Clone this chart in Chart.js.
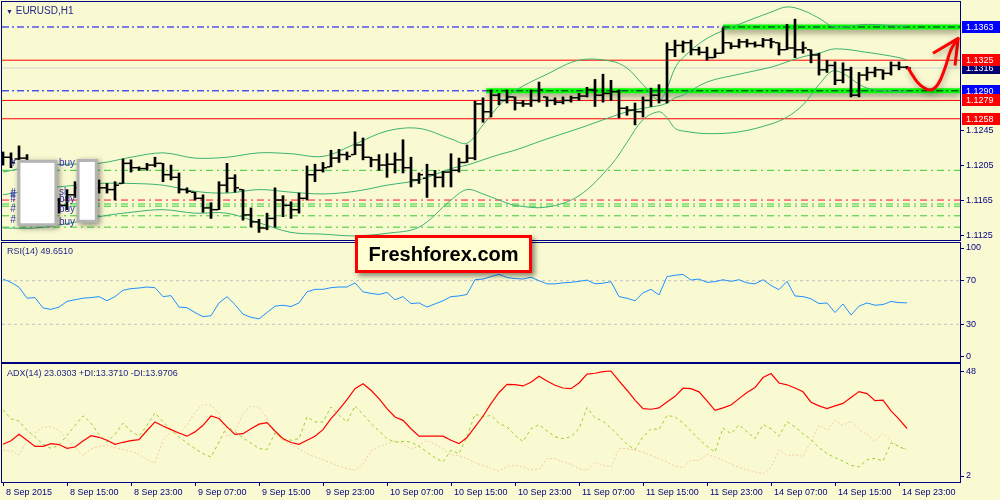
<!DOCTYPE html>
<html>
<head>
<meta charset="utf-8">
<script src="https://cdn.jsdelivr.net/npm/chart.js@4.4.1/dist/chart.umd.min.js"></script>
<style>
  body { margin: 0; background: #fafad2; }
  #wrap { position: relative; width: 1000px; height: 500px; overflow: hidden; background: #fafad2; font-family: "Liberation Sans", Arial, sans-serif; }
  canvas { position: absolute; left: 0; }
  .lbl { position: absolute; font-size: 9px; line-height: 10px; color: #24248c; white-space: nowrap; }
  #brand { position: absolute; left: 355px; top: 235px; width: 177px; height: 38px; box-sizing: border-box;
           border: 3px solid #ff0000; background: #ffffd2; box-shadow: 3px 3px 5px rgba(0,0,0,0.45);
           font: bold 20px "Liberation Sans", Arial, sans-serif; color: #000; text-align: center; line-height: 32px; }
</style>
</head>
<body>
<div id="wrap">
  <canvas id="priceChart" width="1000" height="241" style="top:0"></canvas>
  <canvas id="rsiChart" width="1000" height="121" style="top:242px"></canvas>
  <canvas id="adxChart" width="1000" height="137" style="top:363px"></canvas>
  <div class="lbl" style="left:6px;top:5px;font-size:10px;line-height:11px"><span style="font-size:7px">&#9660;</span> EURUSD,H1</div>
  <div class="lbl" style="left:7px;top:246px">RSI(14) 49.6510</div>
  <div class="lbl" style="left:7px;top:368px">ADX(14) 23.0303 +DI:13.3710 -DI:13.9706</div>
  <div id="brand">Freshforex.com</div>
</div>
<script>
// x axis: one slot per H1 bar
const xTickIdx = [0, 8, 16, 24, 32, 40, 48, 56, 64, 72, 80, 88, 96, 104, 112];
const xTickLabels = ['8 Sep 2015', '8 Sep 15:00', '8 Sep 23:00', '9 Sep 07:00', '9 Sep 15:00', '9 Sep 23:00',
    '10 Sep 07:00', '10 Sep 15:00', '10 Sep 23:00', '11 Sep 07:00', '11 Sep 15:00', '11 Sep 23:00',
    '14 Sep 07:00', '14 Sep 15:00', '14 Sep 23:00'];

// EURUSD H1 bars
const openP = [1.1208,1.1214,1.1212,1.1213,1.1202,1.1190,1.1177,1.1165,1.1159,1.1171,
    1.1179,1.1182,1.1179,1.1179,1.1177,1.1184,1.1207,1.1202,1.1201,1.1205,
    1.1207,1.1194,1.1191,1.1177,1.1174,1.1167,1.1156,1.1154,1.1182,1.1190,
    1.1177,1.1148,1.1140,1.1133,1.1144,1.1165,1.1159,1.1154,1.1167,1.1194,
    1.1199,1.1203,1.1213,1.1217,1.1217,1.1228,1.1214,1.1211,1.1205,1.1206,
    1.1211,1.1202,1.1188,1.1190,1.1194,1.1191,1.1197,1.1199,1.1208,1.1213,
    1.1275,1.1266,1.1285,1.1279,1.1283,1.1276,1.1275,1.1279,1.1283,1.1279,
    1.1277,1.1279,1.1282,1.1284,1.1291,1.1285,1.1287,1.1289,1.1270,1.1268,
    1.1266,1.1279,1.1285,1.1279,1.1337,1.1342,1.1345,1.1337,1.1334,1.1328,
    1.1333,1.1345,1.1341,1.1346,1.1344,1.1342,1.1348,1.1345,1.1337,1.1339,
    1.1337,1.1337,1.1331,1.1314,1.1319,1.1302,1.1314,1.1285,1.1308,1.1311,
    1.1314,1.1310,1.1319,1.1317];
const highP = [1.1220,1.1219,1.1227,1.1217,1.1205,1.1194,1.1182,1.1167,1.1177,1.1186,
    1.1190,1.1188,1.1188,1.1184,1.1186,1.1212,1.1211,1.1203,1.1207,1.1214,
    1.1207,1.1205,1.1196,1.1179,1.1174,1.1171,1.1162,1.1186,1.1207,1.1194,
    1.1177,1.1156,1.1143,1.1150,1.1179,1.1170,1.1163,1.1173,1.1204,1.1206,
    1.1208,1.1222,1.1223,1.1220,1.1243,1.1236,1.1214,1.1217,1.1218,1.1219,
    1.1234,1.1214,1.1196,1.1206,1.1199,1.1198,1.1218,1.1213,1.1228,1.1278,
    1.1282,1.1291,1.1287,1.1291,1.1283,1.1279,1.1291,1.1300,1.1283,1.1282,
    1.1283,1.1284,1.1287,1.1294,1.1303,1.1309,1.1302,1.1291,1.1272,1.1276,
    1.1283,1.1293,1.1297,1.1345,1.1348,1.1347,1.1348,1.1340,1.1340,1.1338,
    1.1362,1.1345,1.1349,1.1349,1.1346,1.1350,1.1350,1.1345,1.1366,1.1372,
    1.1346,1.1337,1.1333,1.1325,1.1323,1.1322,1.1317,1.1311,1.1317,1.1317,
    1.1314,1.1323,1.1323,1.1318];
const lowP = [1.1205,1.1202,1.1211,1.1197,1.1186,1.1171,1.1159,1.1150,1.1154,1.1168,
    1.1171,1.1171,1.1173,1.1173,1.1165,1.1184,1.1197,1.1199,1.1199,1.1203,
    1.1186,1.1188,1.1173,1.1173,1.1165,1.1151,1.1144,1.1154,1.1174,1.1174,
    1.1142,1.1134,1.1128,1.1131,1.1134,1.1146,1.1144,1.1150,1.1165,1.1186,
    1.1197,1.1203,1.1208,1.1211,1.1217,1.1211,1.1203,1.1199,1.1191,1.1196,
    1.1196,1.1180,1.1184,1.1168,1.1180,1.1180,1.1180,1.1197,1.1208,1.1211,
    1.1254,1.1260,1.1274,1.1276,1.1268,1.1272,1.1272,1.1277,1.1272,1.1274,
    1.1275,1.1277,1.1279,1.1283,1.1272,1.1277,1.1279,1.1259,1.1262,1.1251,
    1.1260,1.1272,1.1276,1.1276,1.1329,1.1334,1.1331,1.1331,1.1325,1.1328,
    1.1333,1.1338,1.1339,1.1340,1.1340,1.1340,1.1339,1.1331,1.1337,1.1328,
    1.1333,1.1322,1.1308,1.1311,1.1297,1.1299,1.1283,1.1283,1.1302,1.1306,
    1.1303,1.1308,1.1314,1.1315];
const closeP = [1.1214,1.1208,1.1213,1.1202,1.1190,1.1177,1.1165,1.1159,1.1171,1.1179,
    1.1182,1.1179,1.1179,1.1177,1.1182,1.1207,1.1202,1.1201,1.1205,1.1207,
    1.1194,1.1191,1.1177,1.1175,1.1167,1.1156,1.1154,1.1182,1.1190,1.1179,
    1.1148,1.1140,1.1133,1.1144,1.1165,1.1159,1.1154,1.1167,1.1194,1.1199,
    1.1202,1.1213,1.1217,1.1215,1.1228,1.1214,1.1211,1.1205,1.1206,1.1211,
    1.1202,1.1188,1.1194,1.1194,1.1191,1.1197,1.1199,1.1208,1.1213,1.1275,
    1.1266,1.1285,1.1279,1.1283,1.1276,1.1275,1.1279,1.1291,1.1279,1.1277,
    1.1279,1.1282,1.1284,1.1291,1.1285,1.1287,1.1289,1.1270,1.1268,1.1266,
    1.1279,1.1285,1.1279,1.1337,1.1342,1.1345,1.1337,1.1334,1.1328,1.1333,
    1.1345,1.1341,1.1346,1.1344,1.1342,1.1348,1.1346,1.1337,1.1339,1.1337,
    1.1339,1.1331,1.1314,1.1319,1.1302,1.1314,1.1285,1.1308,1.1311,1.1314,
    1.1310,1.1319,1.1317,1.1316];

// Bollinger bands, read at these bars
const bandIdx = [0,4,8,12,16,20,24,28,32,36,40,44,48,52,56,58,60,62,64,68,72,76,78,80,82,83,84,85,88,92,96,98,100,102,104,108,112,113];
const bandUpper = [1.1197,1.1204,1.1206,1.1207,1.1214,1.1219,1.1213,1.1214,1.1219,1.1218,1.1215,1.1229,1.1244,1.1247,1.1235,1.1230,1.1251,1.1273,1.1290,
    1.1309,1.1325,1.1324,1.1316,1.1297,1.1279,1.1293,1.1316,1.1328,1.1350,1.1366,1.1380,1.1386,1.1382,1.1373,1.1363,1.1366,1.1364,1.1364];
const bandMiddle = [1.1171,1.1177,1.1181,1.1184,1.1184,1.1182,1.1175,1.1173,1.1177,1.1174,1.1172,1.1175,1.1182,1.1188,1.1201,1.1205,1.1211,1.1217,1.1222,
    1.1235,1.1247,1.1260,1.1266,1.1270,1.1273,1.1276,1.1282,1.1285,1.1300,1.1309,1.1317,1.1323,1.1329,1.1333,1.1338,1.1334,1.1328,1.1325];
const bandLower = [1.1133,1.1133,1.1138,1.1146,1.1151,1.1154,1.1150,1.1150,1.1139,1.1128,1.1126,1.1124,1.1127,1.1134,1.1165,1.1177,1.1172,1.1165,1.1159,
    1.1157,1.1170,1.1205,1.1231,1.1257,1.1266,1.1259,1.1247,1.1244,1.1241,1.1243,1.1252,1.1260,1.1274,1.1297,1.1313,1.1293,1.1289,1.1289];

// horizontal levels drawn on the chart
const levelPrices = [1.1363, 1.1325, 1.1316, 1.1290, 1.1279, 1.1258, 1.1199, 1.1165, 1.11605, 1.1158, 1.1147, 1.1134];
const levelKinds = ['blueDash', 'redSolid', 'graySolid', 'blueDash', 'redSolid', 'redSolid', 'greenDash', 'redDash', 'greenDash', 'greenDash', 'greenDash', 'greenDash'];
const zoneFrom = [60.4, 90];
const zonePrice = [1.1290, 1.1363];

// price tags on the right axis
const priceTicks = [1.1125, 1.1165, 1.1205, 1.1245];
const tagValues = [1.1316, 1.1363, 1.1325, 1.1290, 1.1279, 1.1258];
const tagKinds = ['current', 'blue', 'red', 'blue', 'red', 'red'];

// hand drawn forecast arrow (bar index, price)
const arrowX = [113.1, 113.75, 114.6, 115.9, 116.9, 117.75, 118.5, 119.4];
const arrowY = [1.1317, 1.1307, 1.1297, 1.1291, 1.1298, 1.1316, 1.1337, 1.1350];
const arrowHeadX = [116.25, 119.4, 119.0];
const arrowHeadY = [1.1333, 1.1350, 1.1319];

// order objects at the left
const boxX0 = [1.8, 9.2];
const boxX1 = [6.8, 11.85];
const boxTop = [1.1211, 1.1212];
const boxBottom = [1.1135, 1.1139];
const noteText = ['#', 'buy', '#', '#', '#', 'sl', 'buy', '#', 'buy', '#', 'buy'];
const noteX = [0.9, 7.0, 0.9, 0.9, 0.9, 7.0, 7.0, 0.9, 7.0, 0.9, 7.0];
const noteY = [1.1207, 1.1207, 1.1173, 1.1170, 1.1166, 1.1174, 1.1166, 1.1154, 1.1154, 1.1142, 1.1140];

// indicators
const rsi = [71.5,68.5,64,54,54.5,45,43.7,45.8,51,52.5, 54,54.5,55.4,51.6,55.4,61.2,62.7,63.3,64.2,63.6,
    55.4,56.3,45.8,45.2,40.8,37,37.9,49.6,55.4,48.1, 39.3,36.4,35,40.8,46.6,47.5,46.3,49.6,59.8,62.1,
    62.1,63.6,64.2,64.2,68,59.8,58.3,57.4,59.2,52.5, 55.4,49,49.6,45.8,48.7,51.6,55.4,56,57.4,70.9,
    71.5,73.8,75.8,72.9,72,71.5,73.2,70,67.1,67.1, 68,68.5,69.4,70.6,67.1,67.7,69.1,55.4,53.9,51.6,
    58.9,62.1,56.9,73.8,75,75.8,70.6,71.5,68.5,69.1, 70.9,69.4,70.9,68,67.1,70.9,65.6,61.8,69.4,56,
    55.4,53.4,49,49.6,40.8,48.7,38.5,46.6,49.6,47.5, 48.1,51,49.9,49.65];
const rsiLevels = [70, 30];
const rsiTicks = [0, 30, 70, 100];

const adx = [16.0,17.6,20.4,17.8,15.1,15.1,16.3,15.9,14.2,14.8, 17.5,19.8,19.1,17.8,16.0,16.9,17.6,18.1,22.1,25.9,
    24.1,22.5,21.0,19.6,21.5,24.4,28.5,27.4,23.7,20.4, 20.7,22.9,24.9,25.6,21.9,18.5,16.8,16.0,17.8,19.6,
    22.5,27.4,31.3,35.8,40.6,42.8,39.9,36.2,31.8,28.1, 26.6,22.9,19.6,19.6,19.6,19.6,17.8,16.3,19.0,23.7,
    28.4,34.0,38.9,42.5,42.4,41.8,43.4,46.1,44.0,42.1, 40.9,40.6,43.1,47.0,47.4,48.1,48.4,44.0,39.9,35.5,
    31.8,31.5,32.1,34.7,37.2,40.8,40.6,39.2,35.2,31.0, 32.1,33.4,36.2,38.9,41.1,45.5,47.3,43.1,42.3,40.9,
    39.2,34.6,33.0,31.8,33.0,34.1,36.7,39.3,38.4,35.3, 35.5,30.8,27.1,23.0];
const plusDI = [31.3,27.2,26.3,22.2,19.3,16.0,14.2,15.6,20.0,24.3, 28.6,25.4,20.4,17.0,20.4,25.4,21.8,19.6,24.4,29.9,
    25.9,22.5,19.3,16.6,14.1,11.9,10.4,17.0,24.1,21.5, 18.8,16.6,14.1,13.7,21.0,18.5,17.8,18.5,28.1,25.9,
    25.9,32.5,28.8,25.9,33.0,29.3,25.2,21.9,18.5,17.0, 17.3,17.0,15.1,12.6,10.1,8.2,13.4,11.9,19.3,29.3,
    28.1,28.8,25.2,23.7,20.0,17.2,22.9,24.7,21.9,19.3, 18.5,19.4,22.9,32.2,27.8,26.2,23.2,19.6,16.0,13.7,
    19.3,22.9,22.5,28.8,28.1,25.4,21.9,18.2,15.1,12.6, 23.2,20.7,24.6,21.6,18.5,24.7,22.9,19.6,26.0,23.7,
    20.7,18.1,14.5,11.9,10.1,8.6,6.7,6.0,9.2,9.8, 8.6,16.6,15.1,13.4];
const minusDI = [13.4,13.1,11.4,17.3,21.0,23.7,23.7,22.2,18.5,14.5, 11.1,14.0,15.1,15.6,14.5,13.7,12.9,11.6,9.2,7.8,
    17.8,21.5,20.7,24.4,30.3,33.6,33.3,29.6,19.3,21.8, 29.6,33.0,32.5,27.4,20.7,17.8,16.0,14.1,11.9,10.4,
    9.2,7.8,6.3,5.3,4.5,7.2,13.1,15.1,16.3,17.5, 16.3,13.8,15.6,17.8,15.9,14.1,11.4,11.1,9.7,7.9,
    6.7,5.3,4.2,6.3,6.7,6.0,4.8,5.0,9.7,9.7, 8.2,7.2,5.1,4.5,8.2,6.7,6.0,14.1,14.1,13.4,
    12.6,11.1,9.7,8.2,6.3,5.7,8.9,8.9,11.6,10.4, 9.0,7.2,5.7,4.8,3.8,3.0,5.8,13.4,11.1,11.4,
    10.7,17.2,24.6,22.2,26.6,24.4,26.3,22.5,20.4,17.3, 20.7,17.8,14.7,13.97];
const adxTicks = [2, 48];

// ---------------------------------------------------------------
const navy = '#000080';
const fontFamily = '"Liberation Sans", Arial, sans-serif';
const tickFont = { family: fontFamily, size: 9 };
const xMin = -0.125, xMax = 119.625;
const tickOff = 0.3125;

const levelStyles = {
    blueDash: { color: '#0000ff', dash: [7, 3, 2, 3] },
    redSolid: { color: '#ff0000', dash: [] },
    graySolid: { color: '#d4d4d4', dash: [] },
    greenDash: { color: '#32cd32', dash: [7, 4, 2, 4] },
    redDash: { color: '#ff1030', dash: [7, 4, 2, 4] }
};
const tagColors = { current: '#000070', blue: '#0000ff', red: '#ff0000' };

function xScale(show) {
    return {
        type: 'linear', min: xMin, max: xMax, offset: false, display: show,
        afterBuildTicks: s => { s.ticks = xTickIdx.map(v => ({ value: v })); },
        afterFit: s => { if (show) s.height = 18; s.paddingLeft = 0; s.paddingRight = 0; },
        ticks: { autoSkip: false, maxRotation: 0, minRotation: 0, align: 'start', labelOffset: 3, padding: 1,
                 color: navy, font: tickFont, callback: (v, i) => xTickLabels[i] },
        grid: { drawOnChartArea: false, tickLength: 4, color: navy },
        border: { display: true, color: navy }
    };
}

function yScale(min, max, values, fmt) {
    return {
        type: 'linear', position: 'right', min: min, max: max,
        afterBuildTicks: s => { s.ticks = values.map(v => ({ value: v })); },
        afterFit: s => { s.width = 40; s.paddingTop = 0; s.paddingBottom = 0; },
        ticks: { color: navy, padding: 2, font: tickFont, callback: fmt },
        grid: { drawOnChartArea: false, tickLength: 4, color: navy },
        border: { display: true, color: navy }
    };
}

function options(y, showX, pad) {
    return {
        responsive: false, animation: false, events: [],
        layout: { padding: pad, autoPadding: false },
        plugins: { legend: { display: false }, tooltip: { enabled: false } },
        scales: { x: xScale(showX), y: y }
    };
}

function hline(v, color, dash, order) {
    return { type: 'line', data: [{ x: xMin, y: v }, { x: xMax, y: v }], borderColor: color, borderDash: dash,
             borderWidth: 1, pointRadius: 0, order: order };
}

const panelFrame = {
    id: 'panelFrame',
    afterDraw(chart) {
        const a = chart.chartArea, c = chart.ctx;
        c.save();
        c.strokeStyle = navy;
        c.lineWidth = 1;
        c.strokeRect(a.left - 0.5, a.top - 0.5, a.right - a.left + 1, a.bottom - a.top + 1);
        c.restore();
    }
};

const shadowPlugin = {
    id: 'shadow',
    beforeDatasetDraw(chart, args) {
        const ds = chart.data.datasets[args.index];
        if (!ds.shadow) return;
        const c = chart.ctx;
        c.save();
        c.shadowColor = ds.shadow;
        c.shadowBlur = 6;
        c.shadowOffsetX = 1;
        c.shadowOffsetY = 3;
    },
    afterDatasetDraw(chart, args) {
        if (chart.data.datasets[args.index].shadow) chart.ctx.restore();
    }
};

const objectsPlugin = {
    id: 'objects',
    afterDatasetsDraw(chart) {
        const { ctx, scales: { x, y } } = chart;
        ctx.save();
        ctx.font = '10px ' + fontFamily;
        ctx.fillStyle = '#3535b5';
        ctx.textBaseline = 'middle';
        noteText.forEach((s, k) => ctx.fillText(s, x.getPixelForValue(noteX[k]), y.getPixelForValue(noteY[k])));
        ctx.restore();
        boxX0.forEach((_, k) => {
            const l = x.getPixelForValue(boxX0[k]), r = x.getPixelForValue(boxX1[k]);
            const t = y.getPixelForValue(boxTop[k]), b = y.getPixelForValue(boxBottom[k]);
            ctx.save();
            ctx.shadowColor = 'rgba(0,0,0,0.45)';
            ctx.shadowBlur = 6;
            ctx.shadowOffsetX = 2;
            ctx.shadowOffsetY = 2;
            ctx.fillStyle = '#b4b4b4';
            ctx.fillRect(l, t, r - l, b - t);
            ctx.restore();
            ctx.fillStyle = '#ffffff';
            ctx.fillRect(l + 3, t + 3, r - l - 6, b - t - 6);
        });
    }
};

const tagsPlugin = {
    id: 'tags',
    afterDraw(chart) {
        const { ctx, scales: { y } } = chart;
        const left = chart.chartArea.right + 2;
        ctx.save();
        ctx.font = '9px ' + fontFamily;
        ctx.textBaseline = 'middle';
        tagValues.forEach((v, k) => {
            const py = Math.round(y.getPixelForValue(v));
            ctx.fillStyle = tagColors[tagKinds[k]];
            ctx.fillRect(left, py - 6, chart.width - left, 12);
            ctx.fillStyle = '#ffffff';
            ctx.fillText(v.toFixed(4), left + 4, py + 0.5);
        });
        ctx.restore();
    }
};

// ---- price panel ----
const priceSets = [];
priceSets.push({ type: 'line', data: arrowX.map((v, i) => ({ x: v, y: arrowY[i] })), borderColor: '#ff0000',
                 borderWidth: 3, tension: 0.4, pointRadius: 0, order: 0, shadow: 'rgba(0,0,0,0.35)' });
priceSets.push({ type: 'line', data: arrowHeadX.map((v, i) => ({ x: v, y: arrowHeadY[i] })), borderColor: '#ff0000',
                 borderWidth: 3, borderJoinStyle: 'round', pointRadius: 0, order: 0, shadow: 'rgba(0,0,0,0.35)' });
priceSets.push({ type: 'line', showLine: false, data: openP.map((v, i) => ({ x: i - tickOff, y: v })),
                 pointStyle: 'line', pointRadius: 1.5, pointBorderWidth: 1.5, pointBorderColor: '#000', order: 1 });
priceSets.push({ type: 'line', showLine: false, data: closeP.map((v, i) => ({ x: i + tickOff, y: v })),
                 pointStyle: 'line', pointRadius: 1.5, pointBorderWidth: 1.5, pointBorderColor: '#000', order: 1 });
priceSets.push({ type: 'bar', data: highP.map((h, i) => ({ x: i, y: [lowP[i], h] })), backgroundColor: '#000',
                 borderWidth: 0, barThickness: 2, order: 2 });
[bandUpper, bandMiddle, bandLower].forEach(band => {
    priceSets.push({ type: 'line', data: bandIdx.map((v, i) => ({ x: v, y: band[i] })), borderColor: '#3cb371',
                     borderWidth: 1, tension: 0.35, pointRadius: 0, order: 3 });
});
zoneFrom.forEach((x0, k) => {
    priceSets.push({ type: 'line', data: [{ x: x0, y: zonePrice[k] }, { x: xMax, y: zonePrice[k] }], borderColor: '#101040',
                     borderDash: [7, 3, 2, 3], borderWidth: 1, pointRadius: 0, order: 4 });
    priceSets.push({ type: 'line', data: [{ x: x0, y: zonePrice[k] }, { x: xMax, y: zonePrice[k] }], borderColor: '#00ff00',
                     borderWidth: 5, pointRadius: 0, order: 5, shadow: 'rgba(40,40,20,0.55)' });
});
levelPrices.forEach((v, k) => {
    const st = levelStyles[levelKinds[k]];
    priceSets.push(hline(v, st.color, st.dash, 6));
});

new Chart(document.getElementById('priceChart'), {
    type: 'line',
    data: { datasets: priceSets },
    options: options(yScale(1.11193, 1.13916, priceTicks, v => v.toFixed(4)), false, { left: 2, top: 2, right: 0, bottom: 1 }),
    plugins: [shadowPlugin, objectsPlugin, panelFrame, tagsPlugin]
});

// ---- RSI panel ----
const rsiSets = [{ type: 'line', data: rsi.map((v, i) => ({ x: i, y: v })), borderColor: '#1e90ff', borderWidth: 1,
                   pointRadius: 0, order: 0 }];
rsiLevels.forEach(v => rsiSets.push(hline(v, '#c0c0c0', [3, 3], 1)));

new Chart(document.getElementById('rsiChart'), {
    type: 'line',
    data: { datasets: rsiSets },
    options: options(yScale(-4.6, 104.6, rsiTicks, v => String(v)), false, { left: 2, top: 1, right: 0, bottom: 1 }),
    plugins: [panelFrame]
});

// ---- ADX panel ----
new Chart(document.getElementById('adxChart'), {
    type: 'line',
    data: {
        datasets: [
            { data: adx.map((v, i) => ({ x: i, y: v })), borderColor: '#ff0000', borderWidth: 1.2, pointRadius: 0, order: 0 },
            { data: plusDI.map((v, i) => ({ x: i, y: v })), borderColor: '#9acd32', borderWidth: 1, borderDash: [3, 3], pointRadius: 0, order: 1 },
            { data: minusDI.map((v, i) => ({ x: i, y: v })), borderColor: '#f4c9a4', borderWidth: 1, borderDash: [2, 2], pointRadius: 0, order: 2 }
        ]
    },
    options: options(yScale(-0.65, 51.5, adxTicks, v => String(v)), true, { left: 2, top: 1, right: 0, bottom: 0 }),
    plugins: [panelFrame]
});
</script>
</body>
</html>
